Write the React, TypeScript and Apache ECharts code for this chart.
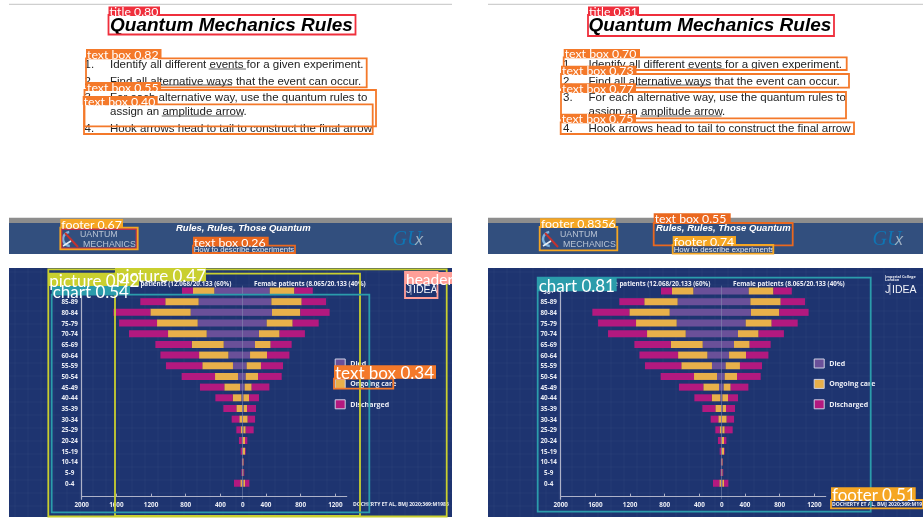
import React, { useEffect, useRef } from "react";
import * as echarts from "echarts";

// ---------- data ----------
const AGE_GROUPS = ["90+", "85-89", "80-84", "75-79", "70-74", "65-69", "60-64", "55-59", "50-54", "45-49", "40-44", "35-39", "30-34", "25-29", "20-24", "15-19", "10-14", "5-9", "0-4", ""];
const MALE_DIED = [327, 508, 600, 519, 415, 219, 165, 112, 54, 31, 15, 4, 4, 4, 4, 4, 2, 2, 8];
const MALE_ONGOING = [246, 385, 465, 469, 446, 369, 338, 354, 265, 181, 100, 69, 35, 19, 8, 4, 4, 4, 19];
const MALE_DISCHARGED = [127, 288, 427, 438, 450, 419, 446, 419, 385, 281, 200, 150, 88, 50, 31, 15, 4, 8, 73];
const FEMALE_DIED = [312, 331, 338, 277, 188, 142, 85, 46, 35, 23, 8, 12, 4, 8, 4, 4, 2, 2, 8];
const FEMALE_ONGOING = [285, 350, 327, 300, 238, 181, 196, 165, 142, 81, 65, 38, 54, 27, 23, 23, 8, 8, 19];
const FEMALE_DISCHARGED = [212, 281, 338, 300, 292, 242, 258, 254, 273, 204, 115, 104, 85, 92, 27, 8, 4, 8, 50];
const LEFT_TICKS = [-2000, -1600, -1200, -800, -400];
const RIGHT_TICKS = [400, 800, 1200];

const TITLE = "Quantum Mechanics Rules";
const LIST_LINES = [
  ["1.", "Identify all different events for a given experiment."],
  ["2.", "Find all alternative ways that the event can occur."],
  ["3.", "For each alternative way, use the quantum rules to"],
  ["", "assign an amplitude arrow."],
  ["4.", "Hook arrows head to tail to construct the final arrow"],
];
const FOOTER_HEAD = "Rules, Rules, Those Quantum";
const FOOTER_SUB = "How to describe experiments";
const MALE_HEADING = "Male patients (12.068/20.133 (60%)";
const FEMALE_HEADING = "Female patients (8.065/20.133 (40%)";
const SOURCE = "DOCHERTY ET AL, BMJ 2020;369:M1985";

// ---------- layout ----------
const RED = "#ef2f3c", ORANGE = "#f4792a", DARKOR = "#ea681f", AMBER = "#f5a623", YELLOW = "#c9cf2f", TEAL = "#2b9cab", PINK = "#ff9f98";
const NAVY = "#1e3470", BAND = "#324f7e", MAGENTA = "#b3197f", GOLD = "#e8b04a", VIOLET = "#6a5099";

type Box = [number, number, number, number, string];
type Tag = [number, number, number, number, string, string, number];

const BOXES: Box[] = [
  [108.5, 15, 355.5, 34.5, RED], [86, 58.3, 366.7, 87.3, ORANGE], [84.5, 90, 376, 126.3, ORANGE], [84, 104.3, 372.7, 134, ORANGE],
  [588, 15, 834, 36, RED], [563.7, 57.3, 846.7, 70, ORANGE], [561, 74, 849, 87.7, ORANGE], [561, 92, 846, 118.3, ORANGE], [560.7, 122.3, 854, 134, ORANGE],
  [61.5, 229, 136.5, 248.5, "#b8304a"], [60.3, 227.7, 137.7, 249.3, AMBER], [193, 245.7, 295, 253, DARKOR],
  [539.7, 227, 617.3, 250.3, AMBER], [653.7, 223, 792.7, 245.3, DARKOR], [672.7, 245, 773.3, 253.7, AMBER],
  [48.3, 269.3, 446.7, 516.5, YELLOW], [115, 273.7, 360, 516, YELLOW], [51.7, 294.7, 369.3, 512.3, TEAL],
  [405, 272, 437.5, 298, PINK], [334, 378.7, 393.3, 388.7, ORANGE],
  [537.7, 277.7, 870.7, 511.7, TEAL], [831, 500, 923, 508.3, AMBER],
];
const TAGS: Tag[] = [
  [108.5, 6.5, 160, 15, RED, "title 0.80", 12.3],
  [86, 49, 161.5, 58.3, ORANGE, "text box 0.82", 12.3],
  [86, 82, 161, 91, ORANGE, "text box 0.55", 12.3],
  [82.7, 96, 157.7, 104.7, ORANGE, "text box 0.40", 12.3],
  [588, 6.5, 639, 15, RED, "title 0.81", 12.3],
  [563.7, 49, 640, 57.3, ORANGE, "text box 0.70", 12.3],
  [561, 65.7, 636.5, 74, ORANGE, "text box 0.73", 12.3],
  [561, 83.3, 636, 92, ORANGE, "text box 0.77", 12.3],
  [560.7, 113.7, 636, 122.3, ORANGE, "text box 0.75", 12.3],
  [60.3, 219, 123, 227.7, AMBER, "footer 0.67", 12.3],
  [193, 236.7, 268.7, 245.7, DARKOR, "text box 0.26", 12.3],
  [540, 218.3, 615.7, 227, AMBER, "footer 0.8356", 12.3],
  [653.7, 213.3, 730.7, 223, DARKOR, "text box 0.55", 12.3],
  [672.7, 236, 736, 245, AMBER, "footer 0.74", 12.3],
  [48.3, 272.7, 139, 286, YELLOW, "picture 0.42", 17],
  [115, 268, 206, 281.3, YELLOW, "picture 0.47", 17],
  [51.7, 286, 130, 295, TEAL, "chart 0.54", 17],
  [405, 272, 452, 284, PINK, "header", 15.5],
  [334, 365.3, 436, 378.7, ORANGE, "text box 0.34", 17],
  [537.7, 277.7, 616.7, 291.3, TEAL, "chart 0.81", 17],
  [831, 487.3, 915.7, 500, AMBER, "footer 0.51", 17],
];
const UNDERLINES = [[208.7, 246, 69], [150.7, 232, 85], [161.7, 243, 116]];
const LIST_Y = [63.7, 80.7, 97.3, 111.3, 127.7];

const SANS = "'Liberation Sans', Arial, sans-serif";
const LABEL_FONT = "'Open Sans', sans-serif";

function txt(x: number, y: number, text: string, fontSize: number, fill: string, extra: any = {}, z = 1) {
  return {
    type: "text", x, y, z, silent: true,
    style: { text, fontSize, fill, fontFamily: SANS, textVerticalAlign: "middle", verticalAlign: "middle", ...extra },
  };
}
function rect(x0: number, y0: number, x1: number, y1: number, fill: string, z = -5) {
  return { type: "rect", z, silent: true, shape: { x: x0, y: y0, width: x1 - x0, height: y1 - y0 }, style: { fill } };
}
function seg(x1: number, y1: number, x2: number, y2: number, stroke: string, lineWidth = 1, z = 1) {
  return { type: "line", z, silent: true, shape: { x1, y1, x2, y2 }, style: { stroke, lineWidth } };
}

function upperSlide(dx: number) {
  const out: any[] = [seg(9 + (dx ? 479 : 0), 4.3, dx ? 923 : 452, 4.3, "#c4c4c4", 1, -4)];
  out.push(txt(110 + dx, 24.8, TITLE, 19, "#000", { fontWeight: "bold", fontStyle: "italic" }));
  LIST_LINES.forEach(([n, line], i) => {
    if (n) out.push(txt(84.5 + dx, LIST_Y[i], n, 11.5, "#222"));
    out.push(txt(110 + dx, LIST_Y[i], line, 11.5, "#222"));
  });
  UNDERLINES.forEach(([a, b, y]) => out.push(seg(a + dx, y, b + dx, y, "#333", 0.8)));
  return out;
}
function footerSlide(dx: number, left: number, right: number) {
  const cx = 70 + dx;
  return [
    rect(left, 217.7, right, 223, "#8d8d8d"),
    rect(left, 223, right, 254, BAND),
    { type: "arc", z: 1, silent: true, shape: { cx, cy: 239, r: 7, startAngle: 1.6, endAngle: 4.6 }, style: { stroke: "#7fb2dd", lineWidth: 2.5, fill: "none" } },
    seg(cx - 5, 233, cx + 8, 247, "#c3322f", 2),
    seg(cx - 7, 246, cx + 1, 241, "#e6eef5", 1.5),
    txt(80 + dx, 234, "UANTUM", 8.8, "#b9c4d4"),
    txt(83 + dx, 244, "MECHANICS", 8.8, "#b9c4d4"),
    txt(176 + dx, 227.7, FOOTER_HEAD, 9.5, "#fff", { fontWeight: "bold", fontStyle: "italic" }),
    txt(193.7 + dx, 249.3, FOOTER_SUB, 7.8, "#e6e9ef"),
    txt(392.5 + dx, 238, "GU", 20, "#0f76b4", { fontFamily: "'Liberation Serif', serif", fontStyle: "italic" }),
    txt(415 + dx, 239.5, "x", 16, "#9fb0c2", { fontFamily: "'Liberation Sans', sans-serif", fontStyle: "italic" }),
  ];
}
function lowerSlide(x0: number, x1: number, dx: number) {
  const out: any[] = [rect(x0, 268, x1, 517, NAVY, -6)];
  for (let x = x0 + 6; x < x1; x += 13) out.push(seg(x, 268, x, 517, "rgba(255,255,255,0.03)", 1, -5));
  for (let y = 272; y < 517; y += 13) out.push(seg(x0, y, x1, y, "rgba(255,255,255,0.03)", 1, -5));
  const small = { fontFamily: LABEL_FONT, fontWeight: "bold" };
  out.push(txt(231.3 + dx, 283.7, MALE_HEADING, 6.3, "#eceef6", { ...small, align: "right", textAlign: "right" }));
  out.push(txt(254 + dx, 283.7, FEMALE_HEADING, 6.3, "#eceef6", small));
  out.push(txt(353 + dx, 504.3, SOURCE, 5.1, "#eceef6", small));
  out.push(txt(406 + dx, 276, "Imperial College", 3.8, "#e8eaf2", small));
  out.push(txt(406 + dx, 279.4, "London", 3.8, "#e8eaf2", small));
  out.push(txt(406 + dx, 288.8, "J", 11, "#f2f3f8"));
  out.push(seg(411 + dx, 283, 411 + dx, 295, "#c9cde0", 0.7));
  out.push(txt(413 + dx, 288.8, "IDEA", 10.5, "#f2f3f8"));
  return out;
}
function overlays() {
  const out: any[] = [];
  BOXES.forEach(([a, b, c, d, color]) =>
    out.push({ type: "rect", z: 20, silent: true, shape: { x: a, y: b, width: c - a, height: d - b }, style: { fill: "none", stroke: color, lineWidth: 1.8 } })
  );
  TAGS.forEach(([a, b, c, d, color, text, size]) => {
    out.push(rect(a, b, c, d, color, 21));
    out.push(txt(a + 1, (b + d) / 2 + 0.8, text, size, "#fff", { fontFamily: "Lato, sans-serif" }, 22));
  });
  return out;
}

function panel(p: number, gridLeft: number) {
  const textStyle = { color: "#eceef6", fontFamily: LABEL_FONT, fontWeight: "bold", fontSize: 6.3 };
  const axisBase = { type: "value", gridIndex: p, position: "bottom", offset: -2.6, splitLine: { show: false }, axisLine: { show: false } };
  const tick = (vals: number[]) => ({ show: true, inside: true, length: 3, lineStyle: { color: "#aeb2c8" }, customValues: vals });
  const lab = (vals: number[]) => ({ ...textStyle, margin: 5, customValues: vals, formatter: (v: number) => String(Math.abs(v)) });
  const xAxes = [
    { ...axisBase, min: -1857, max: 1200, axisLine: { show: true, onZero: false, lineStyle: { color: "#aeb2c8", width: 1.2 } }, axisTick: tick([]), axisLabel: lab([0]) },
    { ...axisBase, min: -2000, max: 1057, axisTick: tick(LEFT_TICKS), axisLabel: lab(LEFT_TICKS) },
    { ...axisBase, min: -1726, max: 1331, axisTick: tick(RIGHT_TICKS), axisLabel: lab(RIGHT_TICKS) },
  ];
  const yAxis = {
    type: "category", gridIndex: p, inverse: true, data: AGE_GROUPS,
    axisLine: { onZero: false, lineStyle: { color: "#aeb2c8", width: 1.2 } }, axisTick: { show: false },
    axisLabel: { ...textStyle, align: "center", margin: 12, interval: 0 },
  };
  const xi = p * 3;
  const stack = "s" + p;
  const mk = (name: string, color: string, data: number[], sign: number) => ({
    type: "bar", name, stack, xAxisIndex: xi, yAxisIndex: p, barWidth: 7, silent: true,
    itemStyle: { color }, data: data.map((v) => v * sign),
  });
  const series: any[] = [
    mk("Died", VIOLET, MALE_DIED, -1), mk("Ongoing care", GOLD, MALE_ONGOING, -1), mk("Discharged", MAGENTA, MALE_DISCHARGED, -1),
    mk("Died", VIOLET, FEMALE_DIED, 1), mk("Ongoing care", GOLD, FEMALE_ONGOING, 1), mk("Discharged", MAGENTA, FEMALE_DISCHARGED, 1),
  ];
  series[0].markLine = { silent: true, symbol: "none", label: { show: false }, lineStyle: { color: "rgba(200,205,225,0.3)", type: "solid", width: 1 }, data: [{ xAxis: 0 }] };
  const legend = {
    orient: "vertical", left: gridLeft + 253, top: 358.5, padding: 0, itemWidth: 10, itemHeight: 9, itemGap: 10.4, selectedMode: false, icon: "rect",
    data: ["Died", "Ongoing care", "Discharged"],
    itemStyle: { borderColor: "#cfd2e4", borderWidth: 1 },
    textStyle: { color: "#eceef6", fontFamily: LABEL_FONT, fontWeight: "bold", fontSize: 7 },
  };
  return { grid: { left: gridLeft, width: 265, top: 285.66, height: 213.6 }, xAxes, yAxis, series, legend };
}

export default function App() {
  const ref = useRef<HTMLDivElement>(null);
  useEffect(() => {
    document.body.style.margin = "0";
    const chart = echarts.init(ref.current!, undefined, { renderer: "svg" });
    const a = panel(0, 81.7);
    const b = panel(1, 560.7);
    chart.setOption({
      animation: false,
      backgroundColor: "#fff",
      grid: [a.grid, b.grid],
      xAxis: [...a.xAxes, ...b.xAxes],
      yAxis: [a.yAxis, b.yAxis],
      series: [...a.series, ...b.series],
      legend: [a.legend, b.legend],
      graphic: {
        elements: [
          ...upperSlide(0), ...upperSlide(478.5),
          ...footerSlide(0, 9, 452), ...footerSlide(480, 488, 923),
          ...lowerSlide(9, 452, 0), ...lowerSlide(488, 923, 479),
          ...overlays(),
        ],
      },
    });
    return () => chart.dispose();
  }, []);
  return <div ref={ref} style={{ position: "absolute", left: 0, top: 0, width: 923, height: 521, filter: "blur(0.35px)" }} />;
}
